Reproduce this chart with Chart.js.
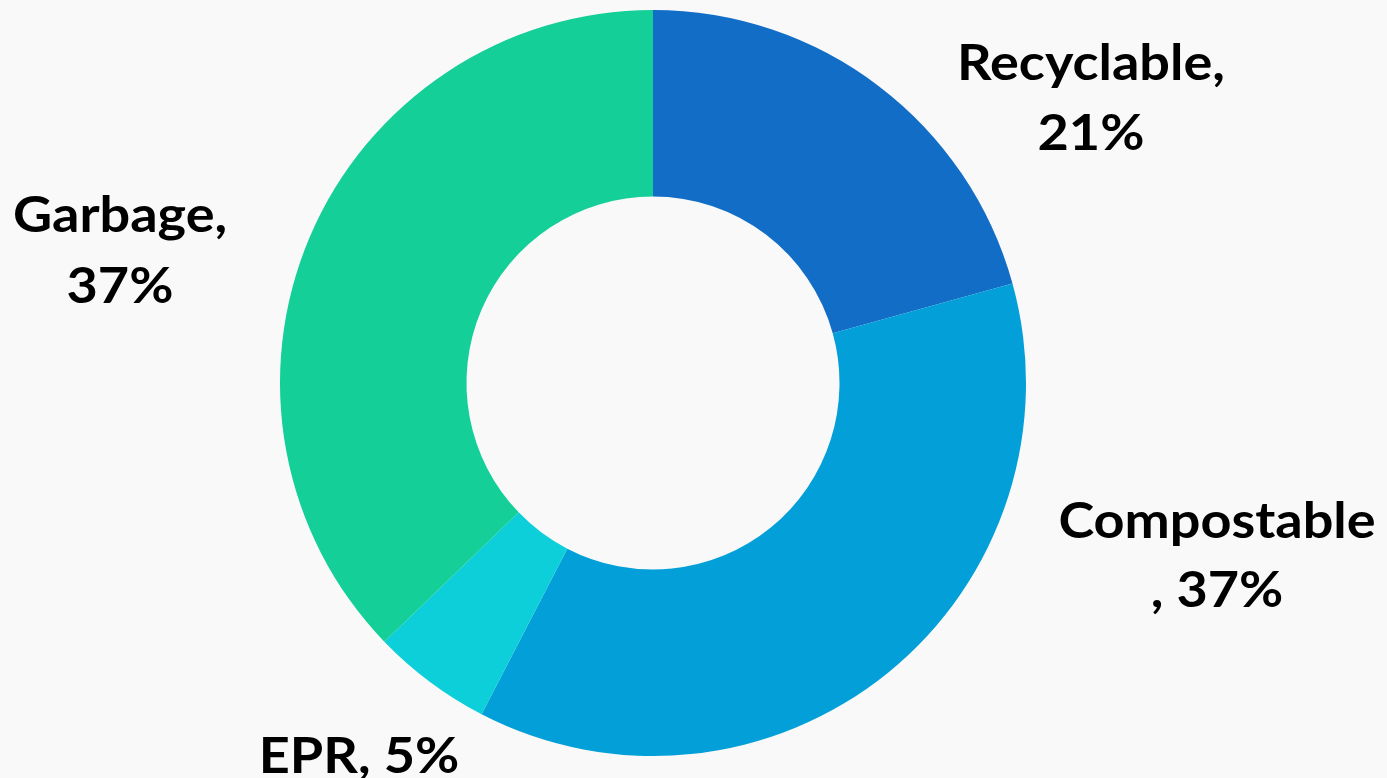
<!DOCTYPE html>
<html>
<head>
<meta charset="utf-8">
<script src="https://cdn.jsdelivr.net/npm/chart.js@4.4.1/dist/chart.umd.min.js"></script>
<style>
  html, body { margin: 0; padding: 0; background: #f9f9f9; }
  #wrap { width: 1387px; height: 778px; }
</style>
</head>
<body>
<div id="wrap"><canvas id="wasteChart"></canvas></div>
<script>
const categories = ['Recyclable', 'Compostable', 'EPR', 'Garbage'];
const shares = [20.7, 36.9, 5.2, 37.2];
const shownPct = ['21%', '37%', '5%', '37%'];
const sliceColors = ['#116dc6', '#039fd8', '#0dcfd9', '#14cf98'];

// label placement per slice: x centre, baselines, where the line breaks
const labelSpots = [
    { x: 1091, y: [80, 150], split: 'afterComma' },
    { x: 1217, y: [538, 607], split: 'beforeComma' },
    { x: 359, y: [773], split: 'none' },
    { x: 120, y: [232, 303], split: 'afterComma' }
];

function labelLines(i) {
    const name = categories[i], pct = shownPct[i];
    const mode = labelSpots[i].split;
    if (mode === 'afterComma') return [name + ',', pct];
    if (mode === 'beforeComma') return [name, ', ' + pct];
    return [name + ', ' + pct];
}

const outsideLabels = {
    id: 'outsideLabels',
    afterDraw(chart) {
        const c = chart.ctx;
        c.save();
        c.fillStyle = '#000';
        c.font = 'bold 50px Lato';
        c.textAlign = 'center';
        c.textBaseline = 'alphabetic';
        labelSpots.forEach(function (s, idx) {
            labelLines(idx).forEach(function (t, i) {
                c.save();
                c.translate(s.x, s.y[i]);
                c.scale(1.08, 1);
                c.fillText(t, 0, 0);
                c.restore();
            });
        });
        c.restore();
    }
};

document.addEventListener('DOMContentLoaded', function () {
    const ctx = document.getElementById('wasteChart');
    new Chart(ctx, {
        type: 'doughnut',
        data: {
            labels: categories,
            datasets: [{
                data: shares,
                backgroundColor: sliceColors,
                borderWidth: 0
            }]
        },
        options: {
            responsive: true,
            maintainAspectRatio: false,
            animation: false,
            cutout: '50%',
            layout: { padding: { top: 10, bottom: 22, left: 0, right: 81 } },
            plugins: {
                legend: { display: false },
                tooltip: { enabled: false }
            }
        },
        plugins: [outsideLabels]
    });
});
</script>
</body>
</html>
